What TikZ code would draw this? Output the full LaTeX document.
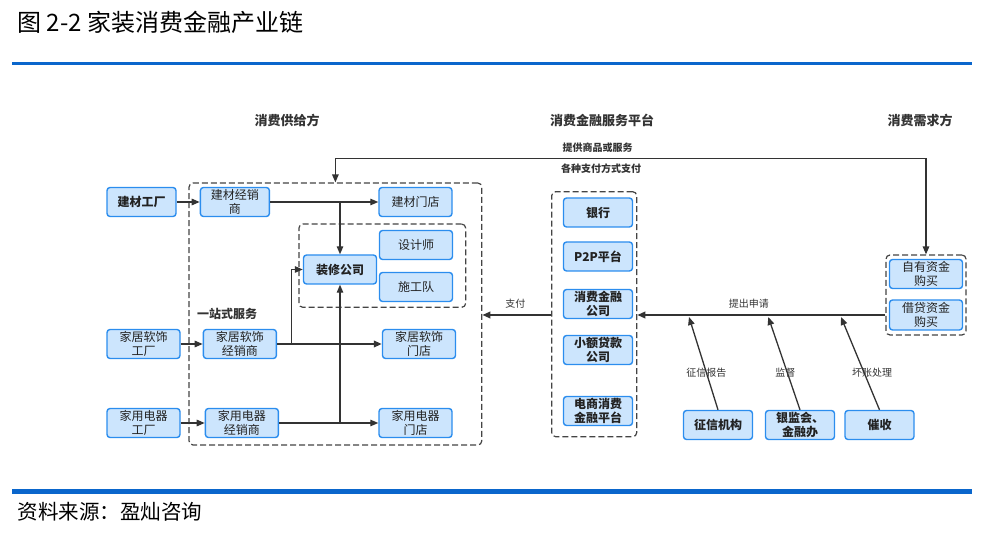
\documentclass[tikz,border=0pt]{standalone}
\usepackage{fontspec}
\setmainfont{Noto Sans CJK SC}
\usepackage{xcolor}
\usepackage{tikz}
\usetikzlibrary{arrows.meta,positioning}
\definecolor{HRule}{HTML}{0A66CC}
\definecolor{HFill}{HTML}{CCE5FD}
\definecolor{HEdge}{HTML}{2B8DEE}
\definecolor{HInk}{HTML}{222222}
\definecolor{HLine}{HTML}{333333}
\definecolor{HDash}{HTML}{444444}

\begin{document}
\begin{tikzpicture}[x=1pt,y=-1pt,
  every node/.style={text=HInk},
  unit/.style={draw=HEdge,line width=1.4pt,rounded corners=3pt,fill=HFill,
    minimum width=73pt,minimum height=29pt,inner sep=1pt,align=center,
    font=\fontsize{12}{13.5}\selectfont},
  unitb/.style={unit,font=\fontsize{12}{13.5}\selectfont\bfseries},
  group/.style={draw=HDash,line width=1.2pt,dash pattern=on 6pt off 3pt,
    rounded corners=4pt,inner sep=0pt},
  head/.style={font=\fontsize{13}{15}\selectfont\bfseries,text=HLine},
  lbl/.style={font=\fontsize{10}{12}\selectfont,text=HLine,inner sep=1pt},
  arr/.style={>={Triangle[length=8pt,width=6.5pt]},->,line width=1.3pt,color=HLine},
  arrthick/.style={arr,line width=2.1pt}
]
  \useasboundingbox (0,0) rectangle (986,537);

  % title and rules
  \node[anchor=west,font=\fontsize{24}{28}\selectfont,text=black] (title) at (14,22)
    {图 2-2 家装消费金融产业链};
  \fill[HRule] (12,62) rectangle (972,65.5);
  \fill[HRule] (12,489) rectangle (972,493.5);
  \node[anchor=west,font=\fontsize{20.5}{24}\selectfont,text=black] (src) at (14,512)
    {资料来源：盈灿咨询};

  % column heads
  \node[head] (hsup) at (287,120) {消费供给方};
  \node[head] (hfin) at (602,120) {消费金融服务平台};
  \node[head] (hdem) at (920,120) {消费需求方};

  % groups
  \node[group,minimum width=292.7pt,minimum height=262pt] (supbox) at (335.4,314) {};
  \node[group,minimum width=166.7pt,minimum height=83.3pt] (zxbox) at (382.3,265.7) {};
  \node[group,minimum width=85pt,minimum height=245pt] (finbox) at (594.2,314.2) {};
  \node[group,minimum width=80pt,minimum height=80pt] (dembox) at (926,295) {};

  % supply side
  \node[unitb,minimum width=69pt] (jcf) at (141.5,202) {建材工厂};
  \node[unit,minimum width=69pt,right=23pt of jcf] (jcd) {建材经销\\商};
  \node[unit] (jcm) at (415.5,202) {建材门店};
  \node[unit] (sjs) at (416,245) {设计师};
  \node[unit] (sgd) at (416,287) {施工队};
  \node[unitb] (zx) at (340,269.5) {装修公司};
  \node[font=\fontsize{12}{14}\selectfont\bfseries,text=HLine] (yzs) at (227,314) {一站式服务};
  \node[unit] (jjf) at (143.5,344) {家居软饰\\工厂};
  \node[unit,right=22pt of jjf] (jjd) {家居软饰\\经销商};
  \node[unit] (jjm) at (419,344) {家居软饰\\门店};
  \node[unit] (jyf) at (143.5,423) {家用电器\\工厂};
  \node[unit,right=24pt of jyf] (jyd) {家用电器\\经销商};
  \node[unit] (jym) at (415.5,423) {家用电器\\门店};

  % finance platforms
  \node[unitb,minimum width=69pt] (yh) at (598,212.5) {银行};
  \node[unitb,minimum width=69pt] (p2p) at (598,256.5) {P2P平台};
  \node[unitb,minimum width=69pt] (xfjr) at (598,304) {消费金融\\公司};
  \node[unitb,minimum width=69pt] (xedk) at (598,350) {小额贷款\\公司};
  \node[unitb,minimum width=69pt] (dsjr) at (598,411) {电商消费\\金融平台};

  % demand side
  \node[unit] (zygm) at (926,274) {自有资金\\购买};
  \node[unit,minimum height=30pt] (jdgm) at (926,315) {借贷资金\\购买};

  % outside parties
  \node[unitb,minimum width=69pt] (zxjg) at (718,425) {征信机构};
  \node[unitb,minimum width=69pt] (yjh) at (800,425) {银监会、\\金融办};
  \node[unitb,minimum width=69pt] (cs) at (879.5,425) {催收};

  % supply chain links
  \draw[arr] (jcf) -- (jcd);
  \draw[arr] (jcd) -- (jcm);
  \draw[arr] (jcd.east) -| (zx.north);
  \draw[arr] (jjf) -- (jjd);
  \draw[arrthick] (jjd) -- (jjm);
  \draw[arr,line width=1.1pt] (jjd.east) -- ++(14,0) |- (zx.west);
  \draw[arr] (jyf) -- (jyd);
  \draw[arr] (jyd) -- (jym);
  \draw[arr,line width=1.1pt] (jyd.east) -| (zx.south);

  % goods and payment
  \draw[arr,<->] (supbox.north) -- ++(0,-24) -| (dembox.north)
    node[lbl,pos=0.222,above=4pt,font=\fontsize{10}{12}\selectfont\bfseries] {提供商品或服务}
    node[lbl,pos=0.225,below=4pt,font=\fontsize{10}{12}\selectfont\bfseries] {各种支付方式支付};
  \draw[arrthick] (dembox.west |- jdgm) -- node[lbl,above=5pt,pos=0.55] {提出申请}
    (finbox.east |- jdgm);
  \draw[arrthick] (finbox.west |- jdgm) -- node[lbl,above=5pt,pos=0.52] {支付}
    (supbox.east |- jdgm);

  % support links
  \coordinate (zxin) at (689,317);
  \coordinate (jgin) at (768.3,317);
  \coordinate (csin) at (841,317);
  \draw[arr] (zxjg.north) -- node[lbl,pos=0.4] {征信报告} (zxin);
  \draw[arr] (yjh.north) -- node[lbl,pos=0.4,xshift=-2pt] {监督} (jgin);
  \draw[arr] (cs.north) -- node[lbl,pos=0.4,xshift=8pt] {坏账处理} (csin);
\end{tikzpicture}
\end{document}
